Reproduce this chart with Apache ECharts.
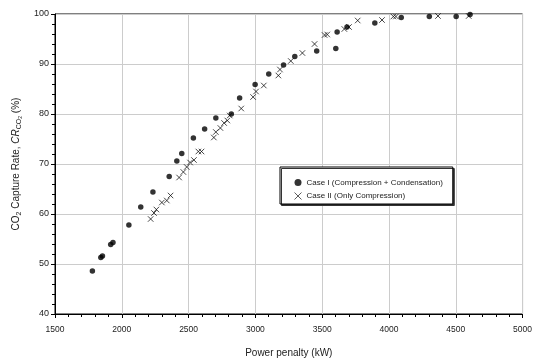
<!DOCTYPE html>
<html><head><meta charset="utf-8">
<script src="https://cdn.jsdelivr.net/npm/echarts@6/dist/echarts.min.js"></script>
<style>html,body{margin:0;padding:0;background:#fff}#c{width:535px;height:363px}</style>
</head><body><div id="c"></div>
<script>
var case1X = [1780,1843,1855,1917,1934,2053,2142,2233,2355,2412,2449,2536,2620,2704,2820,2882,2998,3100,3211,3295,3459,3602,3612,3686,3894,4092,4302,4503,4607];
var case1Y = [48.6,51.3,51.6,53.9,54.3,57.8,61.4,64.4,67.5,70.6,72.1,75.2,77.0,79.2,80.0,83.2,85.9,88.0,89.8,91.5,92.6,93.1,96.4,97.4,98.2,99.3,99.5,99.5,99.9];
var case2X = [2216,2241,2259,2300,2337,2365,2429,2461,2486,2511,2540,2573,2597,2689,2704,2738,2766,2790,2808,2894,2983,3005,3063,3172,3184,3265,3352,3443,3518,3538,3666,3701,3766,3948,4033,4052,4367,4597];
var case2Y = [59.0,60.2,60.9,62.3,62.7,63.7,67.3,68.4,69.4,70.3,70.8,72.5,72.5,75.3,76.4,77.2,78.2,78.7,79.7,81.1,83.4,84.5,85.7,87.7,88.9,90.6,92.2,94.0,95.8,95.9,97.0,97.4,98.7,98.8,99.5,99.5,99.6,99.6];
var seriesNames = ['Case I (Compression + Condensation)', 'Case II (Only Compression)'];
var xTitle = 'Power penalty (kW)';

function zip(a, b) { return a.map(function (v, i) { return [v, b[i]]; }); }

var FONT = 'Liberation Sans, Arial, sans-serif';
var CROSS = 'path://M0,0L10,10M10,0L0,10';
var chart = echarts.init(document.getElementById('c'), null, {renderer: 'canvas'});
chart.setOption({
  animation: false,
  backgroundColor: '#fff',
  textStyle: {fontFamily: FONT, color: '#222'},
  grid: {left: 55, right: 8, top: 14, bottom: 46, show: true, borderColor: '#000', borderWidth: 1, backgroundColor: 'transparent'},
  legend: {
    orient: 'vertical', left: 280, top: 167,
    backgroundColor: '#fff', borderColor: '#000', borderWidth: 1,
    shadowColor: '#333', shadowOffsetX: 1.5, shadowOffsetY: 1.5, shadowBlur: 0,
    padding: [11, 10, 2, 12], itemGap: 3, itemWidth: 7, itemHeight: 7,
    textStyle: {fontFamily: FONT, fontSize: 8, color: '#222', lineHeight: 9},
    data: [
      {name: seriesNames[0], icon: 'circle'},
      {name: seriesNames[1], icon: CROSS, itemStyle: {color: 'none', borderColor: '#000', borderWidth: 0.8}}
    ]
  },
  xAxis: {
    type: 'value', min: 1500, max: 5000, interval: 500,
    name: xTitle, nameLocation: 'middle', nameGap: 34,
    nameTextStyle: {fontFamily: FONT, fontSize: 10, color: '#222'},
    axisLine: {show: true, lineStyle: {color: '#000', width: 1}},
    axisTick: {show: true, inside: false, length: 4, lineStyle: {color: '#000', width: 1}},
    minorTick: {show: true, splitNumber: 5, length: 3, lineStyle: {color: '#000', width: 1}},
    axisLabel: {fontFamily: FONT, fontSize: 8.5, color: '#222', margin: 11, formatter: function (v) { return String(v); }},
    splitLine: {show: true, lineStyle: {color: '#cccccc', width: 1}}
  },
  yAxis: {
    type: 'value', min: 40, max: 100, interval: 10,
    name: 'CO{sub|2} Capture Rate, {it|CR}{sub|CO}{ss|2} (%)',
    nameLocation: 'middle', nameGap: 32,
    nameTextStyle: {
      fontFamily: FONT, fontSize: 10, color: '#222', lineHeight: 14,
      rich: {
        sub: {fontFamily: FONT, fontSize: 7, color: '#222', verticalAlign: 'bottom', lineHeight: 14},
        ss: {fontFamily: FONT, fontSize: 5, color: '#222', verticalAlign: 'bottom', lineHeight: 12},
        it: {fontFamily: FONT, fontSize: 10, fontStyle: 'italic', color: '#222', lineHeight: 14}
      }
    },
    axisLine: {show: true, lineStyle: {color: '#000', width: 1}},
    axisTick: {show: true, inside: false, length: 4, lineStyle: {color: '#000', width: 1}},
    minorTick: {show: true, splitNumber: 5, length: 3, lineStyle: {color: '#000', width: 1}},
    axisLabel: {fontFamily: FONT, fontSize: 9, color: '#222', margin: 6, formatter: function (v) { return String(v); }},
    splitLine: {show: true, lineStyle: {color: '#cccccc', width: 1}}
  },
  series: [
    {
      name: seriesNames[0], type: 'scatter', data: zip(case1X, case1Y),
      symbol: 'circle', symbolSize: 5.5,
      itemStyle: {color: '#000'}
    },
    {
      name: seriesNames[1], type: 'scatter', data: zip(case2X, case2Y),
      symbol: CROSS, symbolSize: 5.5,
      itemStyle: {color: 'none', borderColor: '#000', borderWidth: 0.9}
    }
  ]
});
</script></body></html>
